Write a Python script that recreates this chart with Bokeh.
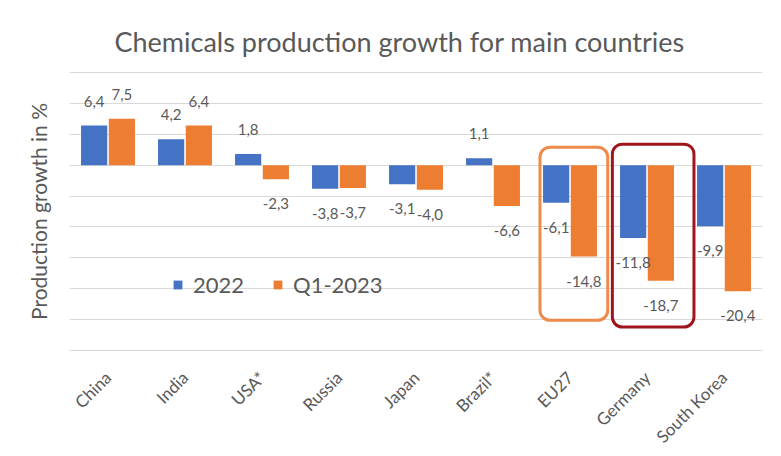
from bokeh.plotting import figure
from bokeh.models import ColumnDataSource, Range1d, FactorRange, Legend, LegendItem, FixedTicker, Title
from bokeh.transform import dodge
from bokeh.core.properties import value
from bokeh.embed import file_html
from bokeh.resources import INLINE

countries = ["China", "India", "USA*", "Russia", "Japan", "Brazil*", "EU27", "Germany", "South Korea"]
growth_2022 = [6.4, 4.2, 1.8, -3.8, -3.1, 1.1, -6.1, -11.8, -9.9]
growth_q1_2023 = [7.5, 6.4, -2.3, -3.7, -4.0, -6.6, -14.8, -18.7, -20.4]
series_names = ["2022", "Q1-2023"]
y_ticks = [-30, -25, -20, -15, -10, -5, 0, 5, 10, 15]

# highlight boxes
box_country = ["EU27", "Germany"]
box_shift = [0.05, 0.08]
box_width = [0.88, 1.06]
box_top = [2.9, 3.4]
box_bottom = [-25.1, -26.2]
box_color = ["#EE8B4B", "#A0141E"]

BLUE = "#4472C4"
ORANGE = "#ED7D31"
GREY = "#595959"
FONT = "Lato"


def fmt(v):
    return f"{v:.1f}".replace(".", ",")


src = ColumnDataSource(dict(
    country=countries,
    a=growth_2022,
    b=growth_q1_2023,
    la=[fmt(v) for v in growth_2022],
    lb=[fmt(v) for v in growth_q1_2023],
    oa=[-19 if v >= 0 else 19 for v in growth_2022],
    ob=[-19 if v >= 0 else 19 for v in growth_q1_2023],
    ba=["bottom" if v >= 0 else "top" for v in growth_2022],
    bb=["bottom" if v >= 0 else "top" for v in growth_q1_2023],
))

p = figure(
    frame_width=693, frame_height=280,
    x_range=FactorRange(*countries, range_padding=0),
    y_range=Range1d(-30.15, 15.15),
    output_backend="svg", toolbar_location=None,
    min_border_left=69, min_border_right=10, min_border_top=71, min_border_bottom=94,
)
p.x_range.factor_padding = 0
p.outline_line_color = None

p.title.text = "Chemicals production growth for main countries"
p.title.align = "left"
p.title.offset = 45
p.title.text_font = FONT
p.title.text_font_size = "27px"
p.title.text_font_style = "normal"
p.title.text_color = GREY
p.title.standoff = 28

rb = p.vbar(x=dodge("country", -0.18, range=p.x_range), top="a", width=0.34, source=src,
            fill_color=BLUE, line_color=None)
ro = p.vbar(x=dodge("country", 0.18, range=p.x_range), top="b", width=0.34, source=src,
            fill_color=ORANGE, line_color=None)

p.text(x=dodge("country", -0.18, range=p.x_range), y="a", text="la", y_offset="oa",
       text_baseline="ba", text_align="center", source=src,
       text_font=value(FONT), text_font_size="15px", text_color=GREY)
p.text(x=dodge("country", 0.18, range=p.x_range), y="b", text="lb", y_offset="ob",
       text_baseline="bb", text_align="center", source=src,
       text_font=value(FONT), text_font_size="15px", text_color=GREY)

for i in range(len(box_country)):
    s = ColumnDataSource(dict(country=[box_country[i]],
                              yc=[(box_top[i] + box_bottom[i]) / 2],
                              h=[box_top[i] - box_bottom[i]]))
    p.rect(x=dodge("country", box_shift[i], range=p.x_range), y="yc", width=box_width[i],
           height="h", source=s, fill_color=None, line_color=box_color[i], line_width=3,
           border_radius=10)

# y axis: gridlines only, title on the left
p.yaxis.visible = False
p.add_layout(Title(text="Production growth in %", align="center", text_font=FONT,
                   text_font_size="21px", text_font_style="normal", text_color=GREY,
                   standoff=37), "left")

p.xaxis.axis_line_color = None
p.xaxis.major_tick_line_color = None
p.xaxis.minor_tick_line_color = None
p.xaxis.major_label_orientation = 0.785
p.xaxis.major_label_text_font = FONT
p.xaxis.major_label_text_font_size = "17px"
p.xaxis.major_label_text_color = GREY
p.xaxis.major_label_standoff = 17

p.xgrid.grid_line_color = None
p.ygrid.ticker = FixedTicker(ticks=y_ticks)
p.ygrid.grid_line_color = "#D9D9D9"
p.ygrid.grid_line_width = 1

legend = Legend(items=[LegendItem(label=series_names[0], renderers=[rb]),
                       LegendItem(label=series_names[1], renderers=[ro])],
                location=(103, 53), orientation="horizontal",
                background_fill_alpha=0, border_line_color=None,
                label_text_font=FONT, label_text_font_size="22px", label_text_color=GREY,
                glyph_width=11, glyph_height=11, spacing=28, padding=0, margin=0,
                label_standoff=10)
p.add_layout(legend, "center")

open("out.html", "w").write(file_html(p, INLINE))
